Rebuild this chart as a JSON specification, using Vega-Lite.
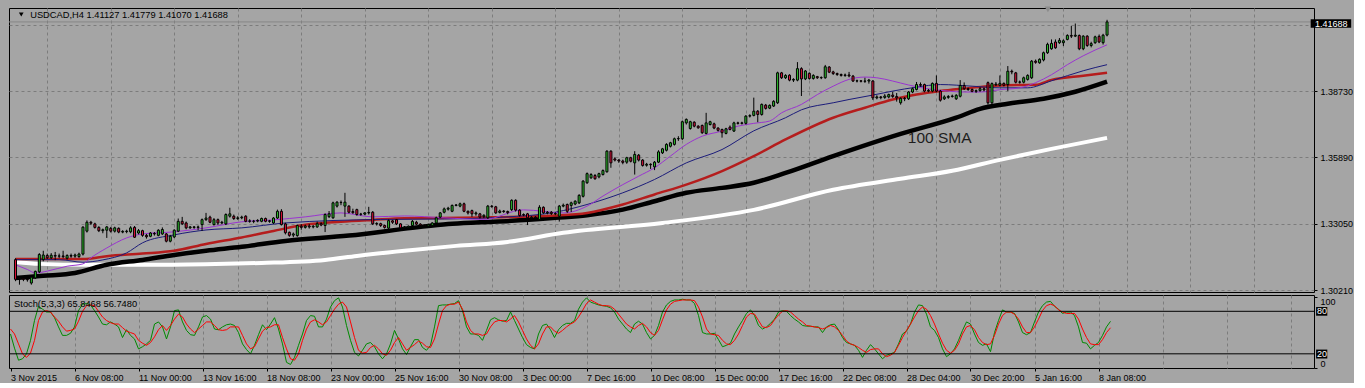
{
"$schema": "https://vega.github.io/schema/vega-lite/v6.json",
"padding": {"left": 5, "top": 5, "right": 0, "bottom": 0},
"background": "#a5a5a5",
"spacing": 3,
"bounds": "flush",
"config": {
  "font": "Liberation Sans",
  "view": {"stroke": "black", "strokeWidth": 1, "fill": "#a5a5a5"},
  "axis": {"labelFont": "Liberation Sans", "labelFontSize": 9, "labelColor": "black", "tickColor": "black", "domain": false, "gridColor": "#7c7c7c", "gridDash": [3, 3], "gridWidth": 1}
},
"datasets": {
  "one": [{}],
  "candles": [
{"i":0,"o":1.3152,"h":1.3158,"l":1.3060,"c":1.3068},
{"i":1,"o":1.3070,"h":1.3080,"l":1.3045,"c":1.3072},
{"i":2,"o":1.3072,"h":1.3078,"l":1.3060,"c":1.3068},
{"i":3,"o":1.3068,"h":1.3075,"l":1.3058,"c":1.3066},
{"i":4,"o":1.3052,"h":1.3080,"l":1.3045,"c":1.3077},
{"i":5,"o":1.3074,"h":1.3105,"l":1.3070,"c":1.3102},
{"i":6,"o":1.3100,"h":1.3180,"l":1.3095,"c":1.3174},
{"i":7,"o":1.3152,"h":1.3190,"l":1.3145,"c":1.3172},
{"i":8,"o":1.3170,"h":1.3178,"l":1.3155,"c":1.3160},
{"i":9,"o":1.3160,"h":1.3180,"l":1.3155,"c":1.3171},
{"i":10,"o":1.3170,"h":1.3185,"l":1.3150,"c":1.3167},
{"i":11,"o":1.3167,"h":1.3178,"l":1.3158,"c":1.3168},
{"i":12,"o":1.3168,"h":1.3190,"l":1.3158,"c":1.3165},
{"i":13,"o":1.3158,"h":1.3175,"l":1.3152,"c":1.3170},
{"i":14,"o":1.3170,"h":1.3178,"l":1.3160,"c":1.3167},
{"i":15,"o":1.3167,"h":1.3178,"l":1.3160,"c":1.3172},
{"i":16,"o":1.3165,"h":1.3182,"l":1.3160,"c":1.3176},
{"i":17,"o":1.3176,"h":1.3295,"l":1.3170,"c":1.3291},
{"i":18,"o":1.3274,"h":1.3320,"l":1.3268,"c":1.3312},
{"i":19,"o":1.3312,"h":1.3318,"l":1.3300,"c":1.3308},
{"i":20,"o":1.3305,"h":1.3310,"l":1.3285,"c":1.3290},
{"i":21,"o":1.3290,"h":1.3295,"l":1.3270,"c":1.3276},
{"i":22,"o":1.3276,"h":1.3285,"l":1.3265,"c":1.3280},
{"i":23,"o":1.3278,"h":1.3296,"l":1.3245,"c":1.3292},
{"i":24,"o":1.3286,"h":1.3292,"l":1.3268,"c":1.3274},
{"i":25,"o":1.3274,"h":1.3293,"l":1.3268,"c":1.3288},
{"i":26,"o":1.3286,"h":1.3290,"l":1.3265,"c":1.3270},
{"i":27,"o":1.3270,"h":1.3278,"l":1.3265,"c":1.3273},
{"i":28,"o":1.3272,"h":1.3280,"l":1.3265,"c":1.3274},
{"i":29,"o":1.3271,"h":1.3295,"l":1.3265,"c":1.3288},
{"i":30,"o":1.3290,"h":1.3296,"l":1.3245,"c":1.3248},
{"i":31,"o":1.3266,"h":1.3283,"l":1.3260,"c":1.3276},
{"i":32,"o":1.3276,"h":1.3280,"l":1.3250,"c":1.3256},
{"i":33,"o":1.3256,"h":1.3262,"l":1.3242,"c":1.3250},
{"i":34,"o":1.3252,"h":1.3270,"l":1.3248,"c":1.3266},
{"i":35,"o":1.3264,"h":1.3270,"l":1.3255,"c":1.3262},
{"i":36,"o":1.3256,"h":1.3282,"l":1.3252,"c":1.3278},
{"i":37,"o":1.3262,"h":1.3290,"l":1.3258,"c":1.3281},
{"i":38,"o":1.3262,"h":1.3266,"l":1.3226,"c":1.3231},
{"i":39,"o":1.3231,"h":1.3258,"l":1.3226,"c":1.3252},
{"i":40,"o":1.3249,"h":1.3282,"l":1.3245,"c":1.3278},
{"i":41,"o":1.3274,"h":1.3328,"l":1.3270,"c":1.3316},
{"i":42,"o":1.3316,"h":1.3335,"l":1.3300,"c":1.3305},
{"i":43,"o":1.3309,"h":1.3315,"l":1.3282,"c":1.3288},
{"i":44,"o":1.3288,"h":1.3296,"l":1.3284,"c":1.3292},
{"i":45,"o":1.3292,"h":1.3296,"l":1.3284,"c":1.3290},
{"i":46,"o":1.3290,"h":1.3298,"l":1.3278,"c":1.3292},
{"i":47,"o":1.3302,"h":1.3328,"l":1.3275,"c":1.3323},
{"i":48,"o":1.3323,"h":1.3352,"l":1.3318,"c":1.3330},
{"i":49,"o":1.3334,"h":1.3340,"l":1.3308,"c":1.3312},
{"i":50,"o":1.3302,"h":1.3330,"l":1.3298,"c":1.3323},
{"i":51,"o":1.3323,"h":1.3328,"l":1.3300,"c":1.3309},
{"i":52,"o":1.3309,"h":1.3318,"l":1.3304,"c":1.3312},
{"i":53,"o":1.3305,"h":1.3350,"l":1.3300,"c":1.3345},
{"i":54,"o":1.3338,"h":1.3374,"l":1.3332,"c":1.3348},
{"i":55,"o":1.3338,"h":1.3345,"l":1.3322,"c":1.3328},
{"i":56,"o":1.3328,"h":1.3338,"l":1.3322,"c":1.3331},
{"i":57,"o":1.3331,"h":1.3340,"l":1.3325,"c":1.3334},
{"i":58,"o":1.3338,"h":1.3342,"l":1.3312,"c":1.3316},
{"i":59,"o":1.3316,"h":1.3325,"l":1.3310,"c":1.3318},
{"i":60,"o":1.3317,"h":1.3322,"l":1.3308,"c":1.3316},
{"i":61,"o":1.3317,"h":1.3325,"l":1.3312,"c":1.3320},
{"i":62,"o":1.3316,"h":1.3332,"l":1.3312,"c":1.3328},
{"i":63,"o":1.3328,"h":1.3332,"l":1.3312,"c":1.3316},
{"i":64,"o":1.3316,"h":1.3322,"l":1.3310,"c":1.3318},
{"i":65,"o":1.3309,"h":1.3334,"l":1.3305,"c":1.3330},
{"i":66,"o":1.3330,"h":1.3366,"l":1.3326,"c":1.3359},
{"i":67,"o":1.3359,"h":1.3368,"l":1.3298,"c":1.3302},
{"i":68,"o":1.3305,"h":1.3310,"l":1.3260,"c":1.3267},
{"i":69,"o":1.3269,"h":1.3272,"l":1.3250,"c":1.3256},
{"i":70,"o":1.3257,"h":1.3268,"l":1.3248,"c":1.3262},
{"i":71,"o":1.3255,"h":1.3302,"l":1.3250,"c":1.3298},
{"i":72,"o":1.3295,"h":1.3304,"l":1.3280,"c":1.3290},
{"i":73,"o":1.3290,"h":1.3302,"l":1.3285,"c":1.3296},
{"i":74,"o":1.3296,"h":1.3305,"l":1.3285,"c":1.3292},
{"i":75,"o":1.3292,"h":1.3300,"l":1.3286,"c":1.3295},
{"i":76,"o":1.3292,"h":1.3315,"l":1.3288,"c":1.3306},
{"i":77,"o":1.3306,"h":1.3312,"l":1.3295,"c":1.3300},
{"i":78,"o":1.3298,"h":1.3350,"l":1.3270,"c":1.3345},
{"i":79,"o":1.3336,"h":1.3360,"l":1.3330,"c":1.3348},
{"i":80,"o":1.3331,"h":1.3400,"l":1.3327,"c":1.3395},
{"i":81,"o":1.3381,"h":1.3402,"l":1.3375,"c":1.3398},
{"i":82,"o":1.3397,"h":1.3405,"l":1.3385,"c":1.3396},
{"i":83,"o":1.3381,"h":1.3438,"l":1.3335,"c":1.3398},
{"i":84,"o":1.3381,"h":1.3385,"l":1.3350,"c":1.3355},
{"i":85,"o":1.3358,"h":1.3370,"l":1.3348,"c":1.3353},
{"i":86,"o":1.3366,"h":1.3370,"l":1.3340,"c":1.3345},
{"i":87,"o":1.3346,"h":1.3352,"l":1.3340,"c":1.3347},
{"i":88,"o":1.3347,"h":1.3355,"l":1.3342,"c":1.3352},
{"i":89,"o":1.3352,"h":1.3378,"l":1.3345,"c":1.3354},
{"i":90,"o":1.3355,"h":1.3360,"l":1.3300,"c":1.3305},
{"i":91,"o":1.3305,"h":1.3312,"l":1.3298,"c":1.3307},
{"i":92,"o":1.3306,"h":1.3310,"l":1.3292,"c":1.3298},
{"i":93,"o":1.3298,"h":1.3302,"l":1.3285,"c":1.3290},
{"i":94,"o":1.3287,"h":1.3324,"l":1.3282,"c":1.3319},
{"i":95,"o":1.3318,"h":1.3322,"l":1.3305,"c":1.3312},
{"i":96,"o":1.3323,"h":1.3326,"l":1.3300,"c":1.3305},
{"i":97,"o":1.3305,"h":1.3308,"l":1.3285,"c":1.3288},
{"i":98,"o":1.3289,"h":1.3296,"l":1.3284,"c":1.3292},
{"i":99,"o":1.3290,"h":1.3298,"l":1.3285,"c":1.3295},
{"i":100,"o":1.3298,"h":1.3322,"l":1.3293,"c":1.3316},
{"i":101,"o":1.3312,"h":1.3318,"l":1.3300,"c":1.3304},
{"i":102,"o":1.3304,"h":1.3308,"l":1.3292,"c":1.3298},
{"i":103,"o":1.3298,"h":1.3302,"l":1.3290,"c":1.3296},
{"i":104,"o":1.3296,"h":1.3306,"l":1.3292,"c":1.3302},
{"i":105,"o":1.3298,"h":1.3312,"l":1.3294,"c":1.3309},
{"i":106,"o":1.3309,"h":1.3336,"l":1.3305,"c":1.3331},
{"i":107,"o":1.3334,"h":1.3356,"l":1.3330,"c":1.3352},
{"i":108,"o":1.3355,"h":1.3375,"l":1.3350,"c":1.3369},
{"i":109,"o":1.3368,"h":1.3378,"l":1.3362,"c":1.3372},
{"i":110,"o":1.3359,"h":1.3388,"l":1.3355,"c":1.3384},
{"i":111,"o":1.3384,"h":1.3390,"l":1.3380,"c":1.3386},
{"i":112,"o":1.3381,"h":1.3396,"l":1.3376,"c":1.3391},
{"i":113,"o":1.3391,"h":1.3396,"l":1.3355,"c":1.3359},
{"i":114,"o":1.3359,"h":1.3362,"l":1.3345,"c":1.3352},
{"i":115,"o":1.3362,"h":1.3366,"l":1.3335,"c":1.3348},
{"i":116,"o":1.3348,"h":1.3358,"l":1.3340,"c":1.3352},
{"i":117,"o":1.3348,"h":1.3352,"l":1.3328,"c":1.3334},
{"i":118,"o":1.3336,"h":1.3346,"l":1.3330,"c":1.3342},
{"i":119,"o":1.3331,"h":1.3386,"l":1.3326,"c":1.3381},
{"i":120,"o":1.3381,"h":1.3386,"l":1.3374,"c":1.3379},
{"i":121,"o":1.3378,"h":1.3382,"l":1.3348,"c":1.3352},
{"i":122,"o":1.3354,"h":1.3366,"l":1.3350,"c":1.3360},
{"i":123,"o":1.3360,"h":1.3364,"l":1.3352,"c":1.3358},
{"i":124,"o":1.3358,"h":1.3362,"l":1.3346,"c":1.3353},
{"i":125,"o":1.3366,"h":1.3410,"l":1.3360,"c":1.3406},
{"i":126,"o":1.3406,"h":1.3410,"l":1.3358,"c":1.3364},
{"i":127,"o":1.3364,"h":1.3368,"l":1.3336,"c":1.3341},
{"i":128,"o":1.3343,"h":1.3350,"l":1.3338,"c":1.3345},
{"i":129,"o":1.3348,"h":1.3352,"l":1.3300,"c":1.3331},
{"i":130,"o":1.3331,"h":1.3338,"l":1.3325,"c":1.3334},
{"i":131,"o":1.3334,"h":1.3338,"l":1.3322,"c":1.3331},
{"i":132,"o":1.3324,"h":1.3385,"l":1.3320,"c":1.3376},
{"i":133,"o":1.3376,"h":1.3380,"l":1.3348,"c":1.3352},
{"i":134,"o":1.3352,"h":1.3360,"l":1.3346,"c":1.3355},
{"i":135,"o":1.3355,"h":1.3360,"l":1.3343,"c":1.3349},
{"i":136,"o":1.3348,"h":1.3355,"l":1.3342,"c":1.3350},
{"i":137,"o":1.3338,"h":1.3386,"l":1.3315,"c":1.3381},
{"i":138,"o":1.3381,"h":1.3392,"l":1.3376,"c":1.3385},
{"i":139,"o":1.3388,"h":1.3392,"l":1.3352,"c":1.3359},
{"i":140,"o":1.3384,"h":1.3400,"l":1.3356,"c":1.3395},
{"i":141,"o":1.3390,"h":1.3406,"l":1.3385,"c":1.3402},
{"i":142,"o":1.3395,"h":1.3432,"l":1.3390,"c":1.3427},
{"i":143,"o":1.3423,"h":1.3492,"l":1.3418,"c":1.3488},
{"i":144,"o":1.3481,"h":1.3525,"l":1.3476,"c":1.3520},
{"i":145,"o":1.3502,"h":1.3522,"l":1.3498,"c":1.3516},
{"i":146,"o":1.3512,"h":1.3518,"l":1.3494,"c":1.3498},
{"i":147,"o":1.3506,"h":1.3524,"l":1.3500,"c":1.3520},
{"i":148,"o":1.3516,"h":1.3538,"l":1.3512,"c":1.3533},
{"i":149,"o":1.3528,"h":1.3620,"l":1.3524,"c":1.3616},
{"i":150,"o":1.3616,"h":1.3620,"l":1.3545,"c":1.3566},
{"i":151,"o":1.3583,"h":1.3590,"l":1.3572,"c":1.3578},
{"i":152,"o":1.3578,"h":1.3582,"l":1.3566,"c":1.3574},
{"i":153,"o":1.3574,"h":1.3580,"l":1.3560,"c":1.3568},
{"i":154,"o":1.3569,"h":1.3592,"l":1.3562,"c":1.3588},
{"i":155,"o":1.3588,"h":1.3592,"l":1.3568,"c":1.3573},
{"i":156,"o":1.3566,"h":1.3616,"l":1.3516,"c":1.3602},
{"i":157,"o":1.3599,"h":1.3604,"l":1.3572,"c":1.3578},
{"i":158,"o":1.3578,"h":1.3582,"l":1.3550,"c":1.3555},
{"i":159,"o":1.3556,"h":1.3566,"l":1.3550,"c":1.3560},
{"i":160,"o":1.3560,"h":1.3564,"l":1.3540,"c":1.3558},
{"i":161,"o":1.3549,"h":1.3574,"l":1.3535,"c":1.3569},
{"i":162,"o":1.3569,"h":1.3620,"l":1.3565,"c":1.3613},
{"i":163,"o":1.3609,"h":1.3630,"l":1.3604,"c":1.3626},
{"i":164,"o":1.3620,"h":1.3650,"l":1.3615,"c":1.3645},
{"i":165,"o":1.3637,"h":1.3656,"l":1.3632,"c":1.3652},
{"i":166,"o":1.3645,"h":1.3674,"l":1.3640,"c":1.3669},
{"i":167,"o":1.3669,"h":1.3680,"l":1.3660,"c":1.3670},
{"i":168,"o":1.3669,"h":1.3747,"l":1.3664,"c":1.3742},
{"i":169,"o":1.3737,"h":1.3756,"l":1.3730,"c":1.3752},
{"i":170,"o":1.3713,"h":1.3746,"l":1.3708,"c":1.3742},
{"i":171,"o":1.3740,"h":1.3744,"l":1.3718,"c":1.3723},
{"i":172,"o":1.3723,"h":1.3727,"l":1.3712,"c":1.3716},
{"i":173,"o":1.3726,"h":1.3730,"l":1.3690,"c":1.3695},
{"i":174,"o":1.3692,"h":1.3780,"l":1.3688,"c":1.3737},
{"i":175,"o":1.3730,"h":1.3746,"l":1.3726,"c":1.3742},
{"i":176,"o":1.3733,"h":1.3738,"l":1.3710,"c":1.3715},
{"i":177,"o":1.3715,"h":1.3718,"l":1.3700,"c":1.3705},
{"i":178,"o":1.3709,"h":1.3712,"l":1.3674,"c":1.3695},
{"i":179,"o":1.3692,"h":1.3716,"l":1.3688,"c":1.3712},
{"i":180,"o":1.3719,"h":1.3726,"l":1.3705,"c":1.3709},
{"i":181,"o":1.3702,"h":1.3742,"l":1.3698,"c":1.3737},
{"i":182,"o":1.3737,"h":1.3742,"l":1.3730,"c":1.3735},
{"i":183,"o":1.3735,"h":1.3742,"l":1.3730,"c":1.3737},
{"i":184,"o":1.3735,"h":1.3770,"l":1.3730,"c":1.3766},
{"i":185,"o":1.3766,"h":1.3774,"l":1.3760,"c":1.3768},
{"i":186,"o":1.3769,"h":1.3845,"l":1.3765,"c":1.3787},
{"i":187,"o":1.3787,"h":1.3792,"l":1.3740,"c":1.3773},
{"i":188,"o":1.3773,"h":1.3820,"l":1.3768,"c":1.3816},
{"i":189,"o":1.3813,"h":1.3818,"l":1.3794,"c":1.3799},
{"i":190,"o":1.3800,"h":1.3816,"l":1.3796,"c":1.3812},
{"i":191,"o":1.3809,"h":1.3834,"l":1.3805,"c":1.3829},
{"i":192,"o":1.3823,"h":1.3956,"l":1.3818,"c":1.3951},
{"i":193,"o":1.3951,"h":1.3955,"l":1.3925,"c":1.3930},
{"i":194,"o":1.3930,"h":1.3945,"l":1.3925,"c":1.3940},
{"i":195,"o":1.3941,"h":1.3945,"l":1.3915,"c":1.3920},
{"i":196,"o":1.3920,"h":1.3928,"l":1.3912,"c":1.3923},
{"i":197,"o":1.3920,"h":1.3997,"l":1.3915,"c":1.3969},
{"i":198,"o":1.3969,"h":1.3975,"l":1.3852,"c":1.3925},
{"i":199,"o":1.3925,"h":1.3963,"l":1.3920,"c":1.3959},
{"i":200,"o":1.3949,"h":1.3953,"l":1.3922,"c":1.3927},
{"i":201,"o":1.3927,"h":1.3945,"l":1.3922,"c":1.3940},
{"i":202,"o":1.3935,"h":1.3938,"l":1.3925,"c":1.3930},
{"i":203,"o":1.3930,"h":1.3936,"l":1.3924,"c":1.3931},
{"i":204,"o":1.3930,"h":1.3985,"l":1.3926,"c":1.3977},
{"i":205,"o":1.3976,"h":1.3980,"l":1.3950,"c":1.3954},
{"i":206,"o":1.3955,"h":1.3960,"l":1.3942,"c":1.3948},
{"i":207,"o":1.3948,"h":1.3952,"l":1.3938,"c":1.3944},
{"i":208,"o":1.3944,"h":1.3948,"l":1.3935,"c":1.3940},
{"i":209,"o":1.3940,"h":1.3948,"l":1.3934,"c":1.3942},
{"i":210,"o":1.3942,"h":1.3955,"l":1.3932,"c":1.3938},
{"i":211,"o":1.3937,"h":1.3942,"l":1.3912,"c":1.3916},
{"i":212,"o":1.3916,"h":1.3922,"l":1.3910,"c":1.3917},
{"i":213,"o":1.3917,"h":1.3920,"l":1.3910,"c":1.3915},
{"i":214,"o":1.3915,"h":1.3930,"l":1.3908,"c":1.3916},
{"i":215,"o":1.3916,"h":1.3925,"l":1.3905,"c":1.3920},
{"i":216,"o":1.3916,"h":1.3920,"l":1.3835,"c":1.3844},
{"i":217,"o":1.3844,"h":1.3855,"l":1.3838,"c":1.3848},
{"i":218,"o":1.3848,"h":1.3852,"l":1.3838,"c":1.3845},
{"i":219,"o":1.3846,"h":1.3860,"l":1.3840,"c":1.3852},
{"i":220,"o":1.3848,"h":1.3862,"l":1.3842,"c":1.3858},
{"i":221,"o":1.3856,"h":1.3870,"l":1.3844,"c":1.3850},
{"i":222,"o":1.3850,"h":1.3865,"l":1.3828,"c":1.3844},
{"i":223,"o":1.3823,"h":1.3846,"l":1.3815,"c":1.3842},
{"i":224,"o":1.3842,"h":1.3848,"l":1.3830,"c":1.3840},
{"i":225,"o":1.3840,"h":1.3873,"l":1.3835,"c":1.3869},
{"i":226,"o":1.3869,"h":1.3888,"l":1.3864,"c":1.3883},
{"i":227,"o":1.3880,"h":1.3912,"l":1.3876,"c":1.3901},
{"i":228,"o":1.3901,"h":1.3910,"l":1.3892,"c":1.3898},
{"i":229,"o":1.3901,"h":1.3905,"l":1.3868,"c":1.3873},
{"i":230,"o":1.3873,"h":1.3882,"l":1.3868,"c":1.3876},
{"i":231,"o":1.3873,"h":1.3910,"l":1.3868,"c":1.3906},
{"i":232,"o":1.3906,"h":1.3940,"l":1.3868,"c":1.3873},
{"i":233,"o":1.3873,"h":1.3878,"l":1.3828,"c":1.3834},
{"i":234,"o":1.3840,"h":1.3855,"l":1.3835,"c":1.3848},
{"i":235,"o":1.3846,"h":1.3856,"l":1.3840,"c":1.3850},
{"i":236,"o":1.3850,"h":1.3858,"l":1.3845,"c":1.3852},
{"i":237,"o":1.3840,"h":1.3860,"l":1.3835,"c":1.3855},
{"i":238,"o":1.3851,"h":1.3920,"l":1.3846,"c":1.3897},
{"i":239,"o":1.3897,"h":1.3910,"l":1.3878,"c":1.3883},
{"i":240,"o":1.3883,"h":1.3888,"l":1.3874,"c":1.3880},
{"i":241,"o":1.3880,"h":1.3884,"l":1.3868,"c":1.3872},
{"i":242,"o":1.3872,"h":1.3880,"l":1.3865,"c":1.3875},
{"i":243,"o":1.3875,"h":1.3890,"l":1.3870,"c":1.3883},
{"i":244,"o":1.3883,"h":1.3888,"l":1.3872,"c":1.3878},
{"i":245,"o":1.3909,"h":1.3914,"l":1.3815,"c":1.3823},
{"i":246,"o":1.3823,"h":1.3910,"l":1.3815,"c":1.3905},
{"i":247,"o":1.3900,"h":1.3912,"l":1.3895,"c":1.3903},
{"i":248,"o":1.3898,"h":1.3940,"l":1.3893,"c":1.3906},
{"i":249,"o":1.3906,"h":1.3910,"l":1.3893,"c":1.3898},
{"i":250,"o":1.3901,"h":1.3980,"l":1.3873,"c":1.3958},
{"i":251,"o":1.3958,"h":1.3965,"l":1.3945,"c":1.3955},
{"i":252,"o":1.3951,"h":1.3955,"l":1.3906,"c":1.3911},
{"i":253,"o":1.3911,"h":1.3918,"l":1.3905,"c":1.3912},
{"i":254,"o":1.3911,"h":1.3935,"l":1.3906,"c":1.3930},
{"i":255,"o":1.3923,"h":1.3945,"l":1.3918,"c":1.3940},
{"i":256,"o":1.3930,"h":1.4006,"l":1.3925,"c":1.4001},
{"i":257,"o":1.4001,"h":1.4008,"l":1.3990,"c":1.3996},
{"i":258,"o":1.3994,"h":1.4013,"l":1.3990,"c":1.4009},
{"i":259,"o":1.4006,"h":1.4042,"l":1.4000,"c":1.4037},
{"i":260,"o":1.4037,"h":1.4080,"l":1.4032,"c":1.4073},
{"i":261,"o":1.4054,"h":1.4094,"l":1.4050,"c":1.4077},
{"i":262,"o":1.4083,"h":1.4094,"l":1.4054,"c":1.4058},
{"i":263,"o":1.4080,"h":1.4100,"l":1.4075,"c":1.4090},
{"i":264,"o":1.4080,"h":1.4094,"l":1.4066,"c":1.4088},
{"i":265,"o":1.4094,"h":1.4116,"l":1.4090,"c":1.4111},
{"i":266,"o":1.4111,"h":1.4152,"l":1.4100,"c":1.4108},
{"i":267,"o":1.4108,"h":1.4162,"l":1.4104,"c":1.4112},
{"i":268,"o":1.4111,"h":1.4115,"l":1.4048,"c":1.4054},
{"i":269,"o":1.4054,"h":1.4112,"l":1.4048,"c":1.4108},
{"i":270,"o":1.4108,"h":1.4112,"l":1.4062,"c":1.4068},
{"i":271,"o":1.4068,"h":1.4084,"l":1.4060,"c":1.4076},
{"i":272,"o":1.4080,"h":1.4110,"l":1.4075,"c":1.4105},
{"i":273,"o":1.4107,"h":1.4115,"l":1.4078,"c":1.4083},
{"i":274,"o":1.4080,"h":1.4118,"l":1.4072,"c":1.4112},
{"i":275,"o":1.41127,"h":1.41779,"l":1.41070,"c":1.41688}
  ],
  "white": [
{"i":0,"p":1.3142},{"i":6,"p":1.3134},{"i":18,"p":1.3130},{"i":36,"p":1.3130},{"i":53,"p":1.3134},{"i":62,"p":1.3138},{"i":78,"p":1.3151},{"i":86,"p":1.3168},{"i":98,"p":1.3190},{"i":111,"p":1.3211},{"i":124,"p":1.3228},{"i":138,"p":1.3267},{"i":163,"p":1.3309},{"i":186,"p":1.3365},{"i":206,"p":1.3451},{"i":223,"p":1.3498},{"i":236,"p":1.3532},{"i":248,"p":1.3579},{"i":261,"p":1.3626},{"i":275,"p":1.3673}
  ],
  "black": [
{"i":0,"p":1.3074},{"i":7,"p":1.3083},{"i":15,"p":1.3095},{"i":23,"p":1.3130},{"i":32,"p":1.3151},{"i":40,"p":1.3172},{"i":48,"p":1.3190},{"i":57,"p":1.3207},{"i":68,"p":1.3232},{"i":84,"p":1.3255},{"i":100,"p":1.3288},{"i":109,"p":1.3305},{"i":117,"p":1.3312},{"i":125,"p":1.3318},{"i":136,"p":1.3331},{"i":144,"p":1.3342},{"i":153,"p":1.3366},{"i":161,"p":1.3402},{"i":169,"p":1.3438},{"i":178,"p":1.3459},{"i":186,"p":1.3481},{"i":194,"p":1.3523},{"i":206,"p":1.3595},{"i":223,"p":1.3690},{"i":237,"p":1.3759},{"i":243,"p":1.3797},{"i":250,"p":1.3819},{"i":259,"p":1.3840},{"i":267,"p":1.3870},{"i":275,"p":1.3913}
  ],
  "red": [
{"i":0,"p":1.3155},{"i":17,"p":1.3155},{"i":23,"p":1.3167},{"i":32,"p":1.3178},{"i":40,"p":1.3190},{"i":48,"p":1.3219},{"i":57,"p":1.3247},{"i":65,"p":1.3275},{"i":73,"p":1.3301},{"i":82,"p":1.3314},{"i":90,"p":1.3322},{"i":98,"p":1.3329},{"i":117,"p":1.3332},{"i":136,"p":1.3341},{"i":144,"p":1.3352},{"i":153,"p":1.3388},{"i":161,"p":1.3431},{"i":169,"p":1.3473},{"i":178,"p":1.3531},{"i":186,"p":1.3595},{"i":194,"p":1.3666},{"i":206,"p":1.3759},{"i":214,"p":1.3802},{"i":221,"p":1.3837},{"i":227,"p":1.3858},{"i":233,"p":1.3873},{"i":239,"p":1.3884},{"i":245,"p":1.3894},{"i":253,"p":1.3899},{"i":257,"p":1.3900},{"i":261,"p":1.3921},{"i":269,"p":1.3939},{"i":275,"p":1.3951}
  ],
  "navy": [
{"i":0,"p":1.3152},{"i":11,"p":1.3152},{"i":17,"p":1.3141},{"i":22,"p":1.3151},{"i":28,"p":1.3181},{"i":32,"p":1.3224},{"i":40,"p":1.3258},{"i":48,"p":1.3279},{"i":57,"p":1.3288},{"i":68,"p":1.3309},{"i":92,"p":1.3324},{"i":108,"p":1.3326},{"i":123,"p":1.3334},{"i":136,"p":1.3355},{"i":144,"p":1.3388},{"i":153,"p":1.3438},{"i":161,"p":1.3495},{"i":169,"p":1.3566},{"i":178,"p":1.3623},{"i":186,"p":1.3703},{"i":194,"p":1.3759},{"i":198,"p":1.3793},{"i":206,"p":1.3823},{"i":210,"p":1.3837},{"i":216,"p":1.3856},{"i":221,"p":1.3873},{"i":227,"p":1.3890},{"i":233,"p":1.3901},{"i":241,"p":1.3894},{"i":248,"p":1.3887},{"i":255,"p":1.3887},{"i":261,"p":1.3917},{"i":265,"p":1.3939},{"i":269,"p":1.3960},{"i":275,"p":1.3986}
  ],
  "purple": [
{"i":0,"p":1.3130},{"i":3,"p":1.3110},{"i":5,"p":1.3095},{"i":8,"p":1.3103},{"i":13,"p":1.3124},{"i":17,"p":1.3134},{"i":19,"p":1.3160},{"i":23,"p":1.3202},{"i":28,"p":1.3245},{"i":32,"p":1.3262},{"i":40,"p":1.3271},{"i":48,"p":1.3288},{"i":57,"p":1.3314},{"i":65,"p":1.3322},{"i":73,"p":1.3335},{"i":82,"p":1.3352},{"i":90,"p":1.3335},{"i":98,"p":1.3339},{"i":108,"p":1.3331},{"i":118,"p":1.3324},{"i":128,"p":1.3365},{"i":138,"p":1.3352},{"i":144,"p":1.3381},{"i":148,"p":1.3424},{"i":153,"p":1.3473},{"i":157,"p":1.3509},{"i":161,"p":1.3545},{"i":165,"p":1.3595},{"i":169,"p":1.3645},{"i":173,"p":1.3680},{"i":178,"p":1.3702},{"i":182,"p":1.3723},{"i":186,"p":1.3735},{"i":190,"p":1.3745},{"i":193,"p":1.3780},{"i":198,"p":1.3816},{"i":202,"p":1.3858},{"i":206,"p":1.3894},{"i":210,"p":1.3923},{"i":214,"p":1.3933},{"i":217,"p":1.3930},{"i":221,"p":1.3916},{"i":225,"p":1.3899},{"i":231,"p":1.3880},{"i":235,"p":1.3873},{"i":239,"p":1.3869},{"i":243,"p":1.3869},{"i":248,"p":1.3879},{"i":253,"p":1.3887},{"i":257,"p":1.3909},{"i":261,"p":1.3943},{"i":265,"p":1.3986},{"i":269,"p":1.4024},{"i":275,"p":1.4071}
  ],
  "stoch": [
{"i":0,"g":48,"r":55},{"i":1,"g":28,"r":48},{"i":2,"g":11,"r":34},{"i":3,"g":13,"r":20},{"i":4,"g":20,"r":15},{"i":5,"g":39,"r":21},{"i":6,"g":67,"r":39},{"i":7,"g":87,"r":67},{"i":8,"g":83,"r":79},{"i":9,"g":79,"r":81},
{"i":10,"g":79,"r":79},{"i":11,"g":71,"r":72},{"i":12,"g":58,"r":66},{"i":13,"g":46,"r":58},{"i":14,"g":46,"r":52},{"i":15,"g":49,"r":53},{"i":16,"g":58,"r":55},{"i":17,"g":81,"r":66},{"i":18,"g":90,"r":80},{"i":19,"g":91,"r":88},
{"i":20,"g":89,"r":89},{"i":21,"g":81,"r":88},{"i":22,"g":72,"r":80},{"i":23,"g":62,"r":72},{"i":24,"g":61,"r":67},{"i":25,"g":65,"r":64},{"i":26,"g":62,"r":62},{"i":27,"g":58,"r":62},{"i":28,"g":43,"r":57},{"i":29,"g":54,"r":52},
{"i":30,"g":46,"r":50},{"i":31,"g":41,"r":48},{"i":32,"g":27,"r":39},{"i":33,"g":30,"r":35},{"i":34,"g":34,"r":32},{"i":35,"g":39,"r":36},{"i":36,"g":62,"r":44},{"i":37,"g":65,"r":54},{"i":38,"g":58,"r":60},{"i":39,"g":41,"r":53},
{"i":40,"g":58,"r":60},{"i":41,"g":81,"r":69},{"i":42,"g":82,"r":76},{"i":43,"g":65,"r":72},{"i":44,"g":53,"r":62},{"i":45,"g":47,"r":55},{"i":46,"g":46,"r":50},{"i":47,"g":58,"r":55},{"i":48,"g":72,"r":60},{"i":49,"g":74,"r":65},
{"i":50,"g":69,"r":65},{"i":51,"g":55,"r":60},{"i":52,"g":54,"r":54},{"i":53,"g":58,"r":53},{"i":54,"g":61,"r":54},{"i":55,"g":62,"r":58},{"i":56,"g":60,"r":58},{"i":57,"g":50,"r":58},{"i":58,"g":34,"r":46},{"i":59,"g":26,"r":34},
{"i":60,"g":20,"r":27},{"i":61,"g":32,"r":30},{"i":62,"g":47,"r":41},{"i":63,"g":61,"r":52},{"i":64,"g":54,"r":57},{"i":65,"g":62,"r":58},{"i":66,"g":71,"r":61},{"i":67,"g":55,"r":61},{"i":68,"g":34,"r":43},{"i":69,"g":8,"r":27},
{"i":70,"g":5,"r":13},{"i":71,"g":15,"r":11},{"i":72,"g":32,"r":20},{"i":73,"g":48,"r":39},{"i":74,"g":67,"r":55},{"i":75,"g":74,"r":65},{"i":76,"g":73,"r":68},{"i":77,"g":58,"r":65},{"i":78,"g":58,"r":61},{"i":79,"g":69,"r":65},
{"i":80,"g":86,"r":74},{"i":81,"g":95,"r":83},{"i":82,"g":99,"r":90},{"i":83,"g":86,"r":93},{"i":84,"g":60,"r":86},{"i":85,"g":39,"r":65},{"i":86,"g":22,"r":43},{"i":87,"g":17,"r":25},{"i":88,"g":25,"r":21},{"i":89,"g":34,"r":22},
{"i":90,"g":36,"r":29},{"i":91,"g":30,"r":32},{"i":92,"g":20,"r":27},{"i":93,"g":13,"r":20},{"i":94,"g":20,"r":18},{"i":95,"g":34,"r":25},{"i":96,"g":53,"r":36},{"i":97,"g":41,"r":43},{"i":98,"g":27,"r":34},{"i":99,"g":19,"r":25},
{"i":100,"g":30,"r":29},{"i":101,"g":40,"r":33},{"i":102,"g":40,"r":38},{"i":103,"g":29,"r":35},{"i":104,"g":25,"r":30},{"i":105,"g":32,"r":29},{"i":106,"g":58,"r":41},{"i":107,"g":88,"r":62},{"i":108,"g":89,"r":81},{"i":109,"g":89,"r":88},
{"i":110,"g":90,"r":90},{"i":111,"g":91,"r":90},{"i":112,"g":95,"r":93},{"i":113,"g":81,"r":83},{"i":114,"g":58,"r":65},{"i":115,"g":48,"r":53},{"i":116,"g":48,"r":48},{"i":117,"g":46,"r":48},{"i":118,"g":39,"r":46},{"i":119,"g":53,"r":48},
{"i":120,"g":68,"r":58},{"i":121,"g":71,"r":65},{"i":122,"g":68,"r":67},{"i":123,"g":66,"r":67},{"i":124,"g":67,"r":65},{"i":125,"g":79,"r":69},{"i":126,"g":67,"r":74},{"i":127,"g":55,"r":65},{"i":128,"g":43,"r":53},{"i":129,"g":33,"r":41},
{"i":130,"g":29,"r":32},{"i":131,"g":27,"r":27},{"i":132,"g":48,"r":34},{"i":133,"g":60,"r":48},{"i":134,"g":62,"r":58},{"i":135,"g":54,"r":58},{"i":136,"g":43,"r":52},{"i":137,"g":54,"r":49},{"i":138,"g":60,"r":53},{"i":139,"g":63,"r":58},
{"i":140,"g":63,"r":62},{"i":141,"g":67,"r":65},{"i":142,"g":83,"r":72},{"i":143,"g":93,"r":81},{"i":144,"g":99,"r":91},{"i":145,"g":93,"r":96},{"i":146,"g":91,"r":93},{"i":147,"g":89,"r":90},{"i":148,"g":88,"r":88},{"i":149,"g":87,"r":88},
{"i":150,"g":85,"r":87},{"i":151,"g":79,"r":83},{"i":152,"g":69,"r":76},{"i":153,"g":62,"r":69},{"i":154,"g":55,"r":62},{"i":155,"g":50,"r":58},{"i":156,"g":62,"r":55},{"i":157,"g":66,"r":60},{"i":158,"g":62,"r":63},{"i":159,"g":50,"r":58},
{"i":160,"g":41,"r":50},{"i":161,"g":46,"r":46},{"i":162,"g":60,"r":53},{"i":163,"g":79,"r":68},{"i":164,"g":89,"r":82},{"i":165,"g":94,"r":90},{"i":166,"g":96,"r":94},{"i":167,"g":96,"r":95},{"i":168,"g":97,"r":96},{"i":169,"g":96,"r":96},
{"i":170,"g":96,"r":96},{"i":171,"g":91,"r":95},{"i":172,"g":74,"r":86},{"i":173,"g":50,"r":72},{"i":174,"g":48,"r":55},{"i":175,"g":48,"r":48},{"i":176,"g":49,"r":47},{"i":177,"g":40,"r":46},{"i":178,"g":30,"r":39},{"i":179,"g":32,"r":34},
{"i":180,"g":35,"r":33},{"i":181,"g":48,"r":39},{"i":182,"g":58,"r":48},{"i":183,"g":67,"r":60},{"i":184,"g":77,"r":72},{"i":185,"g":82,"r":77},{"i":186,"g":74,"r":76},{"i":187,"g":60,"r":67},{"i":188,"g":55,"r":58},{"i":189,"g":58,"r":57},
{"i":190,"g":63,"r":60},{"i":191,"g":69,"r":68},{"i":192,"g":79,"r":75},{"i":193,"g":81,"r":80},{"i":194,"g":80,"r":81},{"i":195,"g":74,"r":79},{"i":196,"g":69,"r":74},{"i":197,"g":65,"r":69},{"i":198,"g":60,"r":65},{"i":199,"g":59,"r":60},
{"i":200,"g":59,"r":59},{"i":201,"g":58,"r":58},{"i":202,"g":58,"r":57},{"i":203,"g":50,"r":55},{"i":204,"g":58,"r":57},{"i":205,"g":61,"r":60},{"i":206,"g":62,"r":58},{"i":207,"g":54,"r":53},{"i":208,"g":43,"r":46},{"i":209,"g":36,"r":38},
{"i":210,"g":34,"r":34},{"i":211,"g":32,"r":32},{"i":212,"g":25,"r":29},{"i":213,"g":15,"r":25},{"i":214,"g":25,"r":22},{"i":215,"g":33,"r":26},{"i":216,"g":27,"r":27},{"i":217,"g":20,"r":27},{"i":218,"g":13,"r":20},{"i":219,"g":18,"r":16},
{"i":220,"g":20,"r":18},{"i":221,"g":22,"r":22},{"i":222,"g":34,"r":32},{"i":223,"g":48,"r":43},{"i":224,"g":52,"r":53},{"i":225,"g":62,"r":62},{"i":226,"g":79,"r":72},{"i":227,"g":89,"r":81},{"i":228,"g":88,"r":86},{"i":229,"g":76,"r":83},
{"i":230,"g":58,"r":74},{"i":231,"g":53,"r":62},{"i":232,"g":43,"r":48},{"i":233,"g":27,"r":35},{"i":234,"g":16,"r":25},{"i":235,"g":20,"r":21},{"i":236,"g":27,"r":25},{"i":237,"g":39,"r":34},{"i":238,"g":53,"r":48},{"i":239,"g":65,"r":58},
{"i":240,"g":62,"r":60},{"i":241,"g":48,"r":54},{"i":242,"g":36,"r":43},{"i":243,"g":32,"r":36},{"i":244,"g":34,"r":33},{"i":245,"g":23,"r":34},{"i":246,"g":50,"r":46},{"i":247,"g":67,"r":62},{"i":248,"g":82,"r":74},{"i":249,"g":79,"r":79},
{"i":250,"g":79,"r":79},{"i":251,"g":77,"r":76},{"i":252,"g":65,"r":69},{"i":253,"g":50,"r":58},{"i":254,"g":47,"r":50},{"i":255,"g":50,"r":50},{"i":256,"g":65,"r":58},{"i":257,"g":79,"r":69},{"i":258,"g":88,"r":81},{"i":259,"g":93,"r":88},
{"i":260,"g":94,"r":90},{"i":261,"g":87,"r":88},{"i":262,"g":83,"r":82},{"i":263,"g":77,"r":79},{"i":264,"g":79,"r":77},{"i":265,"g":79,"r":77},{"i":266,"g":74,"r":77},{"i":267,"g":58,"r":69},{"i":268,"g":36,"r":55},{"i":269,"g":35,"r":43},
{"i":270,"g":27,"r":34},{"i":271,"g":32,"r":33},{"i":272,"g":36,"r":33},{"i":273,"g":46,"r":40},{"i":274,"g":58,"r":50},{"i":275,"g":65.8468,"r":56.748}
  ]
},
"vconcat": [
  {
    "width": 1305,
    "height": 284,
    "layer": [
      {
        "data": {"name": "white"},
        "mark": {"type": "line", "color": "#ffffff", "strokeWidth": 4, "interpolate": "monotone"},
        "encoding": {
          "x": {"field": "i", "type": "quantitative", "title": null,
            "scale": {"domain": [-0.375, 325.875], "nice": false, "zero": false},
            "axis": {"title": null, "values": [8,16,24,32,40,48,56,64,72,80,88,96,104,112,120,128,136,144,152,160,168,176,184,192,200,208,216,224,232,240,248,256,264,272,280,288,296,304,312,320], "labels": false, "ticks": false, "domain": false, "grid": true}},
          "y": {"field": "p", "type": "quantitative", "title": null,
            "scale": {"domain": [1.30137, 1.42284], "nice": false, "zero": false},
            "axis": {"title": null, "orient": "right", "values": [1.3021, 1.3161, 1.3305, 1.3445, 1.3589, 1.3729, 1.3873, 1.4013, 1.4157], "format": ".5f", "labelExpr": "datum.value > 1.415 ? '' : datum.label", "grid": true, "tickSize": 3, "labelPadding": 3}}
        }
      },
      {
        "data": {"name": "black"},
        "mark": {"type": "line", "color": "#000000", "strokeWidth": 4.5, "interpolate": "monotone"},
        "encoding": {"x": {"field": "i", "type": "quantitative", "title": null}, "y": {"field": "p", "type": "quantitative", "title": null}}
      },
      {
        "data": {"name": "red"},
        "mark": {"type": "line", "color": "#b51d1d", "strokeWidth": 2.5, "interpolate": "monotone"},
        "encoding": {"x": {"field": "i", "type": "quantitative", "title": null}, "y": {"field": "p", "type": "quantitative", "title": null}}
      },
      {
        "data": {"name": "navy"},
        "mark": {"type": "line", "color": "#1c1c7a", "strokeWidth": 1, "interpolate": "monotone"},
        "encoding": {"x": {"field": "i", "type": "quantitative", "title": null}, "y": {"field": "p", "type": "quantitative", "title": null}}
      },
      {
        "data": {"name": "purple"},
        "mark": {"type": "line", "color": "#9a35d0", "strokeWidth": 1, "interpolate": "monotone"},
        "encoding": {"x": {"field": "i", "type": "quantitative", "title": null}, "y": {"field": "p", "type": "quantitative", "title": null}}
      },
      {
        "data": {"name": "one"},
        "mark": {"type": "rule", "color": "#868686", "strokeWidth": 1},
        "encoding": {"y": {"datum": 1.41688, "type": "quantitative", "title": null}}
      },
      {
        "data": {"name": "candles"},
        "mark": {"type": "rule", "color": "#000000", "strokeWidth": 1},
        "encoding": {"x": {"field": "i", "type": "quantitative", "title": null}, "y": {"field": "l", "type": "quantitative", "title": null}, "y2": {"field": "h"}}
      },
      {
        "data": {"name": "candles"},
        "mark": {"type": "bar", "width": 2, "stroke": "#000000", "strokeWidth": 1},
        "encoding": {
          "x": {"field": "i", "type": "quantitative", "title": null},
          "y": {"field": "o", "type": "quantitative", "title": null},
          "y2": {"field": "c"},
          "fill": {"condition": {"test": "datum.c >= datum.o", "value": "#2ec22e"}, "value": "#e0123a"}
        }
      },
      {
        "data": {"name": "one"},
        "mark": {"type": "text", "text": "100 SMA", "font": "Liberation Sans", "fontSize": 15.5, "color": "#1e1e1e", "align": "left", "baseline": "alphabetic"},
        "encoding": {"x": {"datum": 224.8, "type": "quantitative", "title": null}, "y": {"datum": 1.36496, "type": "quantitative", "title": null}}
      },
      {
        "data": {"name": "one"},
        "mark": {"type": "text", "text": "USDCAD,H4  1.41127 1.41779 1.41070 1.41688", "font": "Liberation Sans", "fontSize": 9.3, "color": "#000000", "align": "left", "baseline": "middle"},
        "encoding": {"x": {"datum": 3.7, "type": "quantitative", "title": null}, "y": {"datum": 1.41996, "type": "quantitative", "title": null}}
      },
      {
        "data": {"name": "one"},
        "mark": {"type": "point", "shape": "triangle-down", "filled": true, "color": "#000000", "size": 22, "opacity": 1},
        "encoding": {"x": {"datum": 1.45, "type": "quantitative", "title": null}, "y": {"datum": 1.42009, "type": "quantitative", "title": null}}
      },
      {
        "data": {"name": "one"},
        "mark": {"type": "point", "shape": "triangle-down", "filled": true, "color": "#8c8c8c", "size": 45, "opacity": 1},
        "encoding": {"x": {"datum": 260.1, "type": "quantitative", "title": null}, "y": {"datum": 1.42225, "type": "quantitative", "title": null}}
      },
      {
        "data": {"name": "one"},
        "mark": {"type": "rect", "color": "#000000"},
        "encoding": {"x": {"datum": 326.3, "type": "quantitative", "title": null}, "x2": {"datum": 336.5}, "y": {"datum": 1.41800, "type": "quantitative", "title": null}, "y2": {"datum": 1.41440}}
      },
      {
        "data": {"name": "one"},
        "mark": {"type": "text", "text": "1.41688", "font": "Liberation Sans", "fontSize": 9, "color": "#ffffff", "align": "left", "baseline": "middle"},
        "encoding": {"x": {"datum": 327.4, "type": "quantitative", "title": null}, "y": {"datum": 1.41620, "type": "quantitative", "title": null}}
      }
    ]
  },
  {
    "width": 1305,
    "height": 73,
    "layer": [
      {
        "data": {"name": "stoch"},
        "mark": {"type": "line", "color": "#008a00", "strokeWidth": 1},
        "encoding": {
          "x": {"field": "i", "type": "quantitative", "title": null,
            "scale": {"domain": [-0.375, 325.875], "nice": false, "zero": false},
            "axis": {"title": null, "values": [0,8,16,24,32,40,48,56,64,72,80,88,96,104,112,120,128,136,144,152,160,168,176,184,192,200,208,216,224,232,240,248,256,264,272,280,288,296,304,312,320],
              "labelExpr": "(datum.value % 16 == 0 && datum.value <= 272) ? ['3 Nov 2015','6 Nov 08:00','11 Nov 00:00','13 Nov 16:00','18 Nov 08:00','23 Nov 00:00','25 Nov 16:00','30 Nov 08:00','3 Dec 00:00','7 Dec 16:00','10 Dec 08:00','15 Dec 00:00','17 Dec 16:00','22 Dec 08:00','28 Dec 04:00','30 Dec 20:00','5 Jan 16:00','8 Jan 08:00'][datum.value / 16] : ''",
              "labelAlign": "left", "labelBaseline": "top", "labelPadding": 2, "labelOverlap": false, "labelFlush": false, "labelBound": false,
              "tickSize": 3,
              "tickOpacity": {"condition": {"test": "datum.value % 16 == 0 && datum.value <= 272", "value": 1}, "value": 0},
              "grid": true,
              "gridOpacity": {"condition": {"test": "datum.value == 0", "value": 0}, "value": 1},
              "domain": false}},
          "y": {"field": "g", "type": "quantitative", "title": null,
            "scale": {"domain": [0, 103], "nice": false, "zero": false},
            "axis": {"title": null, "orient": "right", "values": [0, 20, 80, 100], "grid": false, "tickSize": 3, "labelPadding": 3,
              "labelExpr": "(datum.value == 20 || datum.value == 80) ? '' : datum.label",
              "labelBaseline": {"condition": {"test": "datum.value == 100", "value": "top"}, "value": "bottom"}}}
        }
      },
      {
        "data": {"name": "stoch"},
        "mark": {"type": "line", "color": "#ff0000", "strokeWidth": 1},
        "encoding": {"x": {"field": "i", "type": "quantitative", "title": null}, "y": {"field": "r", "type": "quantitative", "title": null}}
      },
      {
        "data": {"name": "one"},
        "mark": {"type": "rule", "color": "#000000", "strokeWidth": 1},
        "encoding": {"y": {"datum": 80, "type": "quantitative", "title": null}}
      },
      {
        "data": {"name": "one"},
        "mark": {"type": "rule", "color": "#000000", "strokeWidth": 1},
        "encoding": {"y": {"datum": 20, "type": "quantitative", "title": null}}
      },
      {
        "data": {"name": "one"},
        "mark": {"type": "text", "text": "Stoch(5,3,3) 65.8468 56.7480", "font": "Liberation Sans", "fontSize": 9.3, "color": "#000000", "align": "left", "baseline": "middle"},
        "encoding": {"x": {"datum": 0.9, "type": "quantitative", "title": null}, "y": {"datum": 89.8, "type": "quantitative", "title": null}}
      },
      {
        "data": {"name": "one"},
        "mark": {"type": "rect", "color": "#000000"},
        "encoding": {"x": {"datum": 326.4, "type": "quantitative", "title": null}, "x2": {"datum": 329.2}, "y": {"datum": 86, "type": "quantitative", "title": null}, "y2": {"datum": 73.8}}
      },
      {
        "data": {"name": "one"},
        "mark": {"type": "text", "text": "80", "font": "Liberation Sans", "fontSize": 9, "color": "#ffffff", "align": "left", "baseline": "middle"},
        "encoding": {"x": {"datum": 326.65, "type": "quantitative", "title": null}, "y": {"datum": 80, "type": "quantitative", "title": null}}
      },
      {
        "data": {"name": "one"},
        "mark": {"type": "rect", "color": "#000000"},
        "encoding": {"x": {"datum": 326.4, "type": "quantitative", "title": null}, "x2": {"datum": 329.2}, "y": {"datum": 26, "type": "quantitative", "title": null}, "y2": {"datum": 13.4}}
      },
      {
        "data": {"name": "one"},
        "mark": {"type": "text", "text": "20", "font": "Liberation Sans", "fontSize": 9, "color": "#ffffff", "align": "left", "baseline": "middle"},
        "encoding": {"x": {"datum": 326.65, "type": "quantitative", "title": null}, "y": {"datum": 20, "type": "quantitative", "title": null}}
      }
    ]
  }
],
"resolve": {"scale": {"x": "independent", "y": "independent"}}
}
